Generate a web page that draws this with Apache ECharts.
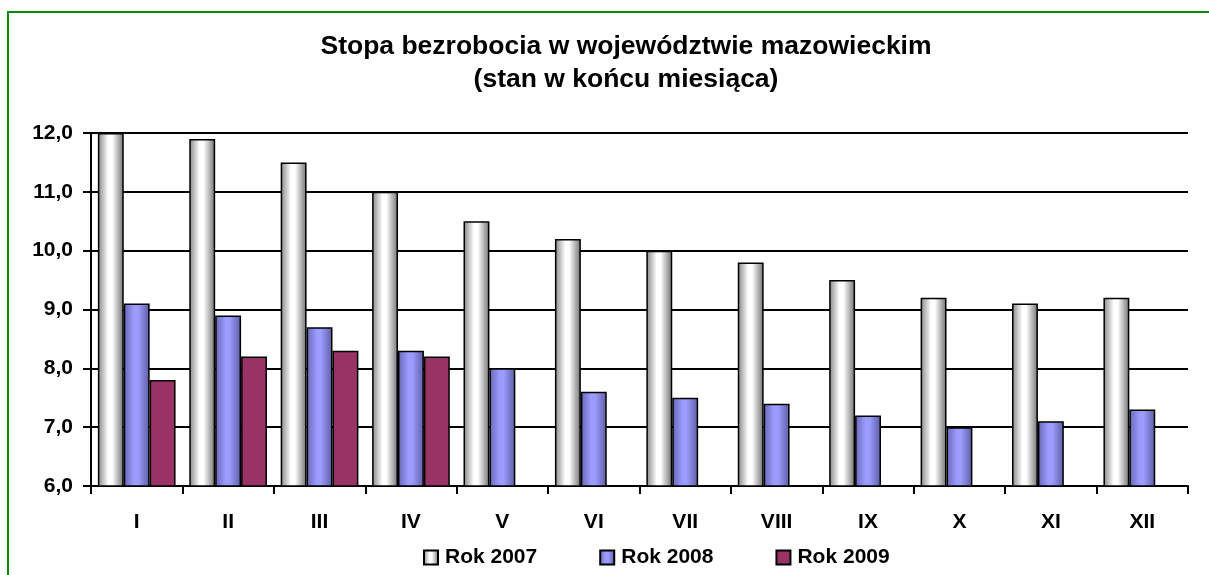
<!DOCTYPE html>
<html>
<head>
<meta charset="utf-8">
<script src="https://cdn.jsdelivr.net/npm/echarts@6/dist/echarts.min.js"></script>
<style>
  html, body { margin: 0; padding: 0; background: #fff; }
  #chart { width: 1209px; height: 575px; }
</style>
</head>
<body>
<div id="chart"></div>
<script>
const months = ["I", "II", "III", "IV", "V", "VI", "VII", "VIII", "IX", "X", "XI", "XII"];
const rok2007 = [12.0, 11.9, 11.5, 11.0, 10.5, 10.2, 10.0, 9.8, 9.5, 9.2, 9.1, 9.2];
const rok2008 = [9.1, 8.9, 8.7, 8.3, 8.0, 7.6, 7.5, 7.4, 7.2, 7.0, 7.1, 7.3];
const rok2009 = [7.8, 8.2, 8.3, 8.2, null, null, null, null, null, null, null, null];

const font = "Arial, 'Liberation Sans', sans-serif";

let myChart = echarts.init(document.getElementById("chart"), null, { renderer: "canvas" });

// gradient for the shaded cylinder-like bars
function shade(edgeL, mid, edgeR) {
  return new echarts.graphic.LinearGradient(0, 0, 1, 0, [
    { offset: 0, color: edgeL },
    { offset: 0.4, color: mid },
    { offset: 0.55, color: mid },
    { offset: 1, color: edgeR },
  ]);
}

let option = {
  animation: false,
  title: {
    text: "Stopa bezrobocia w województwie mazowieckim\n(stan w końcu miesiąca)",
    left: 621,
    top: 25,
    textAlign: "center",
    textStyle: {
      fontFamily: font,
      fontSize: 26.5,
      fontWeight: "bold",
      color: "#000",
      lineHeight: 33,
    },
  },
  legend: {
    left: 418,
    top: 542,
    itemWidth: 14,
    itemHeight: 14,
    itemGap: 62,
    icon: "rect",
    textStyle: { fontFamily: font, fontSize: 21, fontWeight: "bold", color: "#000", padding: [0, 0, 0, 2] },
    data: ["Rok 2007", "Rok 2008", "Rok 2009"],
  },
  grid: { left: 91, right: 21, top: 133, bottom: 89 },
  xAxis: {
    type: "category",
    data: months,
    boundaryGap: true,
    axisLine: { lineStyle: { color: "#000", width: 2 } },
    axisTick: { show: true, length: 8, inside: false, lineStyle: { color: "#000", width: 2 } },
    axisLabel: { margin: 26, fontFamily: font, fontSize: 21, fontWeight: "bold", color: "#000" },
  },
  yAxis: {
    type: "value",
    min: 6,
    max: 12,
    interval: 1,
    axisLine: { show: true, lineStyle: { color: "#000", width: 2 } },
    axisTick: { show: true, length: 8, lineStyle: { color: "#000", width: 2 } },
    splitLine: { show: true, lineStyle: { color: "#000", width: 2 } },
    axisLabel: {
      margin: 18,
      fontFamily: font,
      fontSize: 21,
      fontWeight: "bold",
      color: "#000",
      formatter: (v) => v.toFixed(1).replace(".", ","),
    },
  },
  series: [
    {
      name: "Rok 2007",
      type: "bar",
      data: rok2007,
      barGap: "0%",
      barCategoryGap: "15%",
      itemStyle: { color: shade("#858585", "#ffffff", "#707070"), borderColor: "#000", borderWidth: 1.5 },
    },
    {
      name: "Rok 2008",
      type: "bar",
      data: rok2008,
      itemStyle: { color: shade("#6666b4", "#9c9cff", "#5c5ca2"), borderColor: "#000", borderWidth: 1.5 },
    },
    {
      name: "Rok 2009",
      type: "bar",
      data: rok2009,
      itemStyle: { color: "#993366", borderColor: "#000", borderWidth: 1.5 },
    },
  ],
  graphic: [
    {
      type: "rect",
      shape: { x: 8, y: 12, width: 1400, height: 800 },
      style: { fill: null, stroke: "#0a8a0a", lineWidth: 2 },
      silent: true,
      z: 100,
    },
  ],
};

myChart.setOption(option);
</script>
</body>
</html>
